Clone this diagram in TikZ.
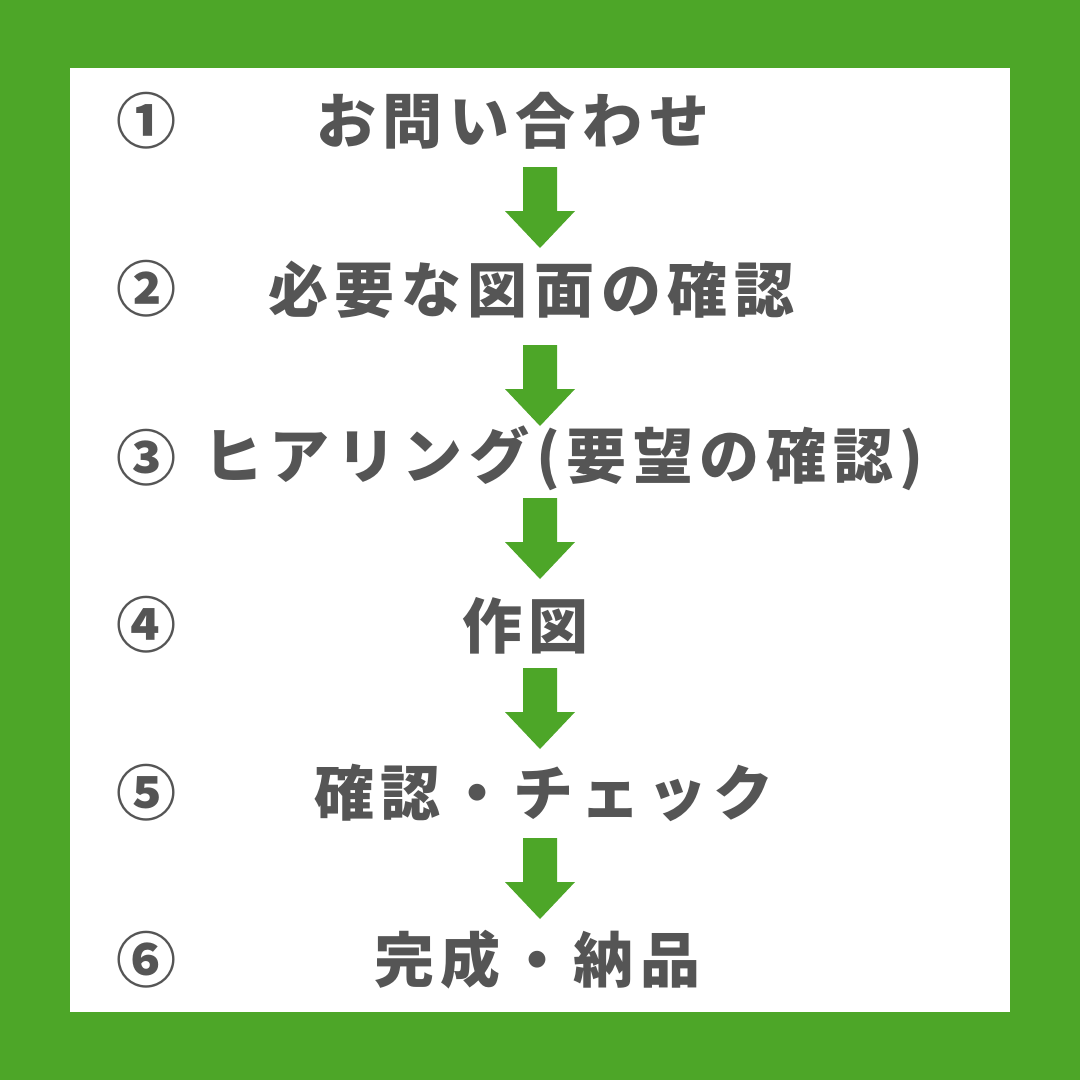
\documentclass[tikz,border=0pt]{standalone}
\usepackage{fontspec}
\newfontfamily\jp{Noto Sans CJK JP}[LetterSpace=11]
\newfontfamily\jpnum{Noto Sans CJK JP}
\definecolor{bggreen}{RGB}{77,166,40}
\definecolor{txtgray}{RGB}{85,85,85}
\tikzset{
  steptext/.style={anchor=west, inner sep=0pt, text=txtgray, font=\jp\bfseries\fontsize{60pt}{72pt}\selectfont},
  numtext/.style={anchor=center, inner sep=0pt, text=txtgray, font=\jpnum\bfseries\fontsize{60pt}{72pt}\selectfont},
  downarrow/.pic={\fill[bggreen] (-17,0) -- (17,0) -- (17,44) -- (35,44) -- (0,81) -- (-35,44) -- (-17,44) -- cycle;}
}
\begin{document}
\begin{tikzpicture}[x=1pt,y=-1pt]
\useasboundingbox (0,0) rectangle (1080,1080);
\fill[bggreen] (0,0) rectangle (1080,1080);
\fill[white] (70,68) rectangle (1010,1012);
% numbers
\node[numtext] (n1) at (146,121) {①};
\node[numtext] (n2) at (146,289) {②};
\node[numtext] (n3) at (146,458) {③};
\node[numtext] (n4) at (146,625) {④};
\node[numtext] (n5) at (146,793) {⑤};
\node[numtext] (n6) at (146,960) {⑥};
% steps
\node[steptext] (s1) at (316,121) {お問い合わせ};
\node[steptext] (s2) at (268,290) {必要な図面の確認};
\node[steptext] (s3) at (203,458) {ヒアリング(要望の確認)};
\node[steptext] (s4) at (462,626) {作図};
\node[steptext] (s5) at (314,793) {確認・チェック};
\node[steptext] (s6) at (374,960) {完成・納品};
% arrows
\pic at (540,167) {downarrow};
\pic at (540,345) {downarrow};
\pic at (540,498) {downarrow};
\pic at (540,668) {downarrow};
\pic at (540,838) {downarrow};
\end{tikzpicture}
\end{document}
